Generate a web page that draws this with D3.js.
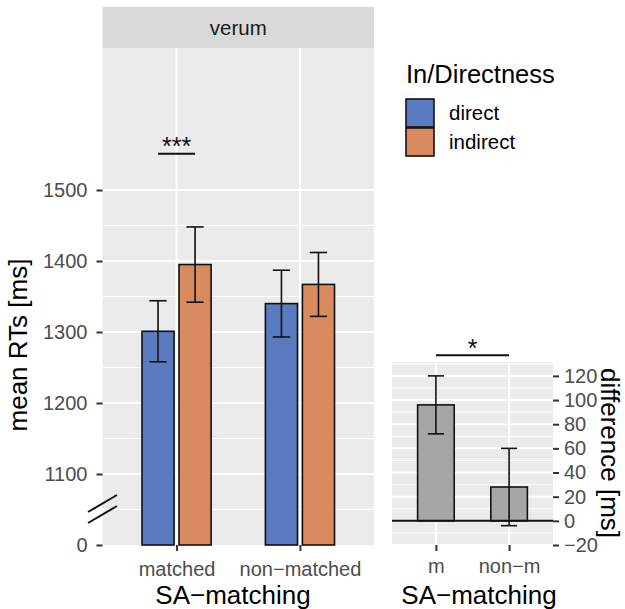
<!DOCTYPE html>
<html>
<head>
<meta charset="utf-8">
<script src="https://cdn.jsdelivr.net/npm/d3@7"></script>
<style>
  body { margin: 0; background: #fff; }
  svg { display: block; font-family: "Liberation Sans", Arial, sans-serif; }
</style>
</head>
<body>
<svg id="chart" width="625" height="609"></svg>
<script>
// data
const categories = ["matched", "non\u2212matched"];
const groups = ["direct", "indirect"];
const directMeans = [1301, 1340];
const directErr = [43, 47];
const indirectMeans = [1395, 1367];
const indirectErr = [53, 45];
const yTicks = [1000, 1100, 1200, 1300, 1400, 1500];
const yTickLabels = ["0", "1100", "1200", "1300", "1400", "1500"];

const diffCats = ["m", "non\u2212m"];
const diffMeans = [96, 28];
const diffErr = [24, 32];
const diffTicks = [-20, 0, 20, 40, 60, 80, 100, 120];

const colors = { direct: "#5A7BC0", indirect: "#D98B5F" };

const svg = d3.select("#chart");

// ---------- main panel ----------
const P = { left: 102.5, right: 374, top: 48, bottom: 545 };
const x = d3.scalePoint().domain(categories).range([P.left, P.right]).padding(0.6);
const y = d3.scaleLinear().domain([1000, 1700]).range([P.bottom, P.top]);
const step = x.step();
const dodge = d3.scalePoint().domain(groups).range([-0.15 * step, 0.15 * step]);
const barW = 0.26 * step;

const rows = [];
categories.forEach((c, i) => {
    rows.push({ cat: c, grp: "direct", mean: directMeans[i], err: directErr[i] });
    rows.push({ cat: c, grp: "indirect", mean: indirectMeans[i], err: indirectErr[i] });
});

// strip
svg.append("rect").attr("x", P.left).attr("y", 7).attr("width", P.right - P.left).attr("height", P.top - 7)
   .attr("fill", "#D9D9D9");
svg.append("text").attr("x", (P.left + P.right) / 2).attr("y", 35).attr("text-anchor", "middle")
   .attr("font-size", 20.5).attr("fill", "#1A1A1A").text("verum");

svg.append("rect").attr("x", P.left).attr("y", P.top).attr("width", P.right - P.left).attr("height", P.bottom - P.top)
   .attr("fill", "#EBEBEB");

const grid = svg.append("g");
// minor lines between breaks
d3.range(1050, 1500, 100).forEach(v => {
    grid.append("line").attr("x1", P.left).attr("x2", P.right).attr("y1", y(v)).attr("y2", y(v))
        .attr("stroke", "#fff").attr("stroke-width", 1);
});
yTicks.slice(1).forEach(v => {
    grid.append("line").attr("x1", P.left).attr("x2", P.right).attr("y1", y(v)).attr("y2", y(v))
        .attr("stroke", "#fff").attr("stroke-width", 2);
});
categories.forEach(c => {
    grid.append("line").attr("x1", x(c)).attr("x2", x(c)).attr("y1", P.top).attr("y2", P.bottom)
        .attr("stroke", "#fff").attr("stroke-width", 2);
});

// bars
svg.append("g").selectAll("rect").data(rows).join("rect")
   .attr("x", d => x(d.cat) + dodge(d.grp) - barW / 2)
   .attr("y", d => y(d.mean))
   .attr("width", barW)
   .attr("height", d => y(1000) - y(d.mean))
   .attr("fill", d => colors[d.grp])
   .attr("stroke", "#111").attr("stroke-width", 1.6);

// error bars
const capW = 0.07 * step;
const eb = svg.append("g").attr("stroke", "#111").attr("stroke-width", 1.6);
rows.forEach(d => {
    const cx = x(d.cat) + dodge(d.grp);
    eb.append("line").attr("x1", cx).attr("x2", cx).attr("y1", y(d.mean - d.err)).attr("y2", y(d.mean + d.err));
    eb.append("line").attr("x1", cx - capW).attr("x2", cx + capW).attr("y1", y(d.mean + d.err)).attr("y2", y(d.mean + d.err));
    eb.append("line").attr("x1", cx - capW).attr("x2", cx + capW).attr("y1", y(d.mean - d.err)).attr("y2", y(d.mean - d.err));
});

// significance
const sx0 = x(categories[0]) + dodge("direct"), sx1 = x(categories[0]) + dodge("indirect");
svg.append("line").attr("x1", sx0).attr("x2", sx1).attr("y1", y(1551)).attr("y2", y(1551))
   .attr("stroke", "#111").attr("stroke-width", 2);
svg.append("text").attr("x", (sx0 + sx1) / 2).attr("y", y(1551) + 1).attr("text-anchor", "middle")
   .attr("font-size", 25).attr("fill", "#111").text("***");

// axes
const yAxis = svg.append("g").attr("transform", `translate(${P.left},0)`)
   .call(d3.axisLeft(y).tickValues(yTicks).tickFormat((d, i) => yTickLabels[i]).tickSize(6).tickPadding(9));
const xAxis = svg.append("g").attr("transform", `translate(0,${P.bottom})`)
   .call(d3.axisBottom(x).tickSize(6).tickPadding(6));
[yAxis, xAxis].forEach(a => {
    a.select(".domain").remove();
    a.selectAll(".tick line").attr("stroke", "#333").attr("stroke-width", 2);
    a.selectAll("text").attr("fill", "#4D4D4D").attr("font-size", 20).attr("font-family", "Liberation Sans, Arial, sans-serif");
});
xAxis.selectAll("text").attr("dy", "0.95em");

// axis break marks
const yb = y(1050);
[[-2.5, 14.5], [-13.5, 3.5]].forEach(([a, b]) => {
    svg.append("line").attr("x1", 88).attr("x2", 117).attr("y1", yb - a).attr("y2", yb - b)
       .attr("stroke", "#111").attr("stroke-width", 2);
});

svg.append("text").attr("transform", `translate(27,${345}) rotate(-90)`).attr("text-anchor", "middle")
   .attr("font-size", 26).attr("fill", "#000").text("mean RTs [ms]");
svg.append("text").attr("x", 233).attr("y", 604).attr("text-anchor", "middle")
   .attr("font-size", 26).attr("fill", "#000").text("SA\u2212matching");

// legend
svg.append("text").attr("x", 406).attr("y", 83).attr("font-size", 25.5).attr("fill", "#000").text("In/Directness");
const lg = svg.append("g").selectAll("g").data(groups).join("g")
   .attr("transform", (d, i) => `translate(406,${99 + i * 29})`);
lg.append("rect").attr("width", 28).attr("height", 28).attr("fill", d => colors[d])
   .attr("stroke", "#111").attr("stroke-width", 1.6);
lg.append("text").attr("x", 43).attr("y", 21).attr("font-size", 20.5).attr("fill", "#000").text(d => d);

// ---------- inset: difference ----------
const Q = { left: 392, right: 553, top: 362, bottom: 545 };
const xi = d3.scalePoint().domain(diffCats).range([Q.left, Q.right]).padding(0.6);
const yi = d3.scaleLinear().domain([-20, 131.5]).range([Q.bottom, Q.top]);
const stepI = xi.step();

svg.append("rect").attr("x", Q.left).attr("y", Q.top).attr("width", Q.right - Q.left).attr("height", Q.bottom - Q.top)
   .attr("fill", "#EBEBEB");
const gi = svg.append("g");
d3.range(-10, 131, 20).forEach(v => {
    gi.append("line").attr("x1", Q.left).attr("x2", Q.right).attr("y1", yi(v)).attr("y2", yi(v))
      .attr("stroke", "#fff").attr("stroke-width", 1);
});
diffTicks.forEach(v => {
    gi.append("line").attr("x1", Q.left).attr("x2", Q.right).attr("y1", yi(v)).attr("y2", yi(v))
      .attr("stroke", "#fff").attr("stroke-width", 2);
});
diffCats.forEach(c => {
    gi.append("line").attr("x1", xi(c)).attr("x2", xi(c)).attr("y1", Q.top).attr("y2", Q.bottom)
      .attr("stroke", "#fff").attr("stroke-width", 2);
});

const diffRows = diffCats.map((c, i) => ({ cat: c, mean: diffMeans[i], err: diffErr[i] }));
const barWi = 0.5 * stepI;
svg.append("g").selectAll("rect").data(diffRows).join("rect")
   .attr("x", d => xi(d.cat) - barWi / 2)
   .attr("y", d => yi(d.mean))
   .attr("width", barWi)
   .attr("height", d => yi(0) - yi(d.mean))
   .attr("fill", "#A6A6A6").attr("stroke", "#111").attr("stroke-width", 1.6);

svg.append("line").attr("x1", Q.left).attr("x2", Q.right).attr("y1", yi(0)).attr("y2", yi(0))
   .attr("stroke", "#111").attr("stroke-width", 2);

const capI = 0.11 * stepI;
const ebi = svg.append("g").attr("stroke", "#111").attr("stroke-width", 1.6);
diffRows.forEach(d => {
    const cx = xi(d.cat);
    ebi.append("line").attr("x1", cx).attr("x2", cx).attr("y1", yi(d.mean - d.err)).attr("y2", yi(d.mean + d.err));
    ebi.append("line").attr("x1", cx - capI).attr("x2", cx + capI).attr("y1", yi(d.mean + d.err)).attr("y2", yi(d.mean + d.err));
    ebi.append("line").attr("x1", cx - capI).attr("x2", cx + capI).attr("y1", yi(d.mean - d.err)).attr("y2", yi(d.mean - d.err));
});

// significance
svg.append("line").attr("x1", xi(diffCats[0])).attr("x2", xi(diffCats[1])).attr("y1", yi(137)).attr("y2", yi(137))
   .attr("stroke", "#111").attr("stroke-width", 2);
svg.append("text").attr("x", (xi(diffCats[0]) + xi(diffCats[1])) / 2).attr("y", yi(137) + 2)
   .attr("text-anchor", "middle").attr("font-size", 25).attr("fill", "#111").text("*");

const yAxisI = svg.append("g").attr("transform", `translate(${Q.right},0)`)
   .call(d3.axisRight(yi).tickValues(diffTicks).tickFormat(d => d < 0 ? "\u2212" + Math.abs(d) : d).tickSize(6).tickPadding(5));
const xAxisI = svg.append("g").attr("transform", `translate(0,${Q.bottom})`)
   .call(d3.axisBottom(xi).tickSize(6).tickPadding(5));
[yAxisI, xAxisI].forEach(a => {
    a.select(".domain").remove();
    a.selectAll(".tick line").attr("stroke", "#333").attr("stroke-width", 2);
    a.selectAll("text").attr("fill", "#4D4D4D").attr("font-size", 20).attr("font-family", "Liberation Sans, Arial, sans-serif");
});
xAxisI.selectAll("text").attr("dy", "0.85em");

svg.append("text").attr("transform", `translate(601,${453}) rotate(90)`).attr("text-anchor", "middle")
   .attr("font-size", 26).attr("fill", "#000").text("difference [ms]");
svg.append("text").attr("x", 479).attr("y", 604).attr("text-anchor", "middle")
   .attr("font-size", 26).attr("fill", "#000").text("SA\u2212matching");
</script>
</body>
</html>
